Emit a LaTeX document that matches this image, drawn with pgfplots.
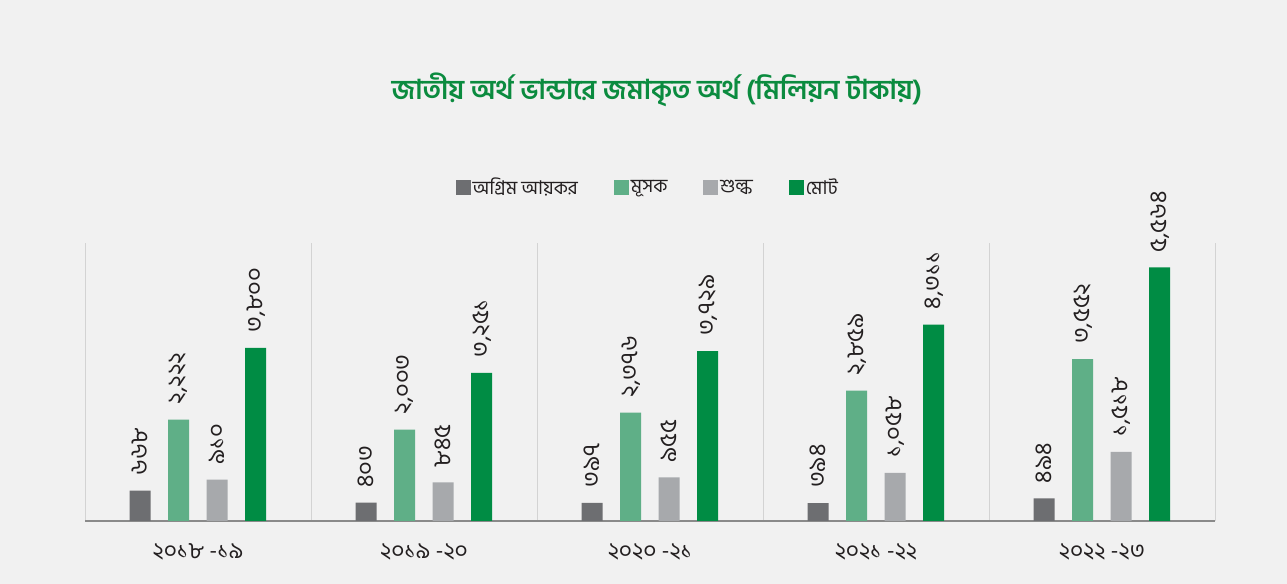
\documentclass[border=0pt]{standalone}
\usepackage{pgfplots}
\pgfplotsset{compat=1.18}
\usepackage{fontspec}
\setmainfont{Hind Siliguri}[Script=Bengali]
\newfontfamily\bn[Script=Bengali]{Hind Siliguri}
\definecolor{bg}{HTML}{F1F1F1}
\definecolor{cdark}{HTML}{6D6E71}
\definecolor{cmusok}{HTML}{5FAF87}
\definecolor{cshulk}{HTML}{A7A9AC}
\definecolor{ctotal}{HTML}{008C44}
\definecolor{titlegreen}{HTML}{0B8B3F}
\definecolor{gridgray}{HTML}{D3D3D3}
\definecolor{axisgray}{HTML}{8A8A8A}
\definecolor{txt}{HTML}{231F20}
\begin{document}
\begin{tikzpicture}
\fill[bg] (0,0) rectangle (1287bp,584bp);
\begin{axis}[
  at={(85bp,63bp)}, anchor=south west,
  scale only axis, width=1130bp, height=278bp,
  xmin=-0.5, xmax=4.5, ymin=0, ymax=6100,
  axis x line*=bottom, axis y line=none,
  x axis line style={draw=axisgray, line width=1.2pt, -},
  xtick={0,1,2,3,4},
  xticklabels={২০১৮ -১৯, ২০১৯ -২০, ২০২০ -২১, ২০২১ -২২, ২০২২ -২৩},
  major tick length=0pt, minor tick length=0pt,
  minor xtick={-0.5,0.5,1.5,2.5,3.5,4.5},
  xminorgrids, minor grid style={draw=gridgray, line width=0.7pt},
  xticklabel style={font=\bn\fontsize{23}{26}\selectfont, text=txt, yshift=-19bp},
  ybar=17.5bp, bar width=21bp,
  point meta=explicit symbolic,
  nodes near coords,
  nodes near coords style={rotate=90, anchor=west, inner xsep=15bp, inner ysep=0pt, font=\bn\fontsize{24}{27}\selectfont, text=txt},
  title={জাতীয় অর্থ ভান্ডারে জমাকৃত অর্থ (মিলিয়ন টাকায়)},
  title style={at={(0.506,1.5288)}, anchor=center, font=\bn\bfseries\fontsize{27.5}{31}\selectfont, text=titlegreen},
  legend columns=4,
  legend style={at={(0.498,1.2014)}, anchor=center, draw=none, fill=none,
    font=\bn\fontsize{19}{22}\selectfont, text=txt,
    /tikz/every even column/.append style={column sep=34bp}},
  legend image code/.code={\fill[#1,draw=none] (-4bp,-7.5bp) rectangle (11bp,7.5bp);},
]
\addplot[fill=cdark, draw=none] coordinates {(0,668)[৬৬৮] (1,403)[৪০৩] (2,397)[৩৯৭] (3,394)[৩৯৪] (4,494)[৪৯৪]};
\addplot[fill=cmusok, draw=none] coordinates {(0,2222)[২,২২২] (1,2003)[২,০০৩] (2,2376)[২,৩৭৬] (3,2859)[২,৮৫৯] (4,3552)[৩,৫৫২]};
\addplot[fill=cshulk, draw=none] coordinates {(0,910)[৯১০] (1,845)[৮৪৫] (2,955)[৯৫৫] (3,1058)[১,০৫৮] (4,1518)[১,৫১৮]};
\addplot[fill=ctotal, draw=none] coordinates {(0,3800)[৩,৮০০] (1,3251)[৩,২৫১] (2,3729)[৩,৭২৯] (3,4311)[৪,৩১১] (4,5564)[৫,৫৬৪]};
\legend{অগ্রিম আয়কর, মূসক, শুল্ক, মোট}
\end{axis}
\pgfresetboundingbox
\useasboundingbox (0,0) rectangle (1287bp,584bp);
\end{tikzpicture}
\end{document}
